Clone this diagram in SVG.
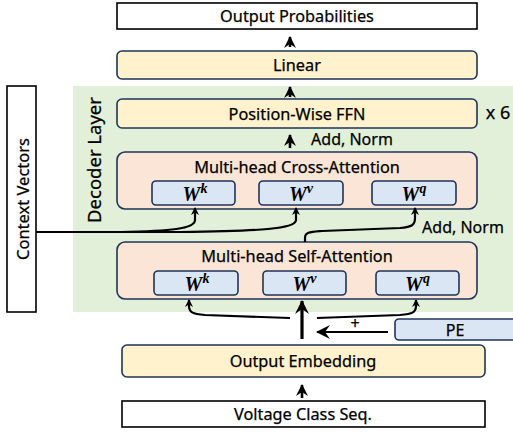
<svg xmlns="http://www.w3.org/2000/svg" width="513" height="432" viewBox="0 0 513 432">
<style>
.lbl{font-family:"Noto Sans","Open Sans",sans-serif;font-size:16px;fill:#000;stroke:#000;stroke-width:0.25;text-anchor:middle;dominant-baseline:central}
.ttl{font-family:"Noto Sans","Open Sans",sans-serif;font-size:16.3px;fill:#000;stroke:#000;stroke-width:0.25;text-anchor:middle;dominant-baseline:central}
.w{font-family:"Liberation Serif",serif;font-weight:bold;font-style:italic;font-size:20px;fill:#000;text-anchor:middle;dominant-baseline:central}
.sup{font-size:14px}
.plain{fill:#fff;stroke:#000;stroke-width:1.6}
.yel{fill:#FFF2CC;stroke:#1F3558;stroke-width:1.6}
.sal{fill:#FBE5D6;stroke:#1F3558;stroke-width:1.6}
.blu{fill:#DAE6F4;stroke:#1F3558;stroke-width:1.6}
.ln{fill:none;stroke:#000;stroke-width:2.2}
.la{fill:none;stroke:#000;stroke-width:2.6}
.lnb{fill:none;stroke:#000;stroke-width:3.2}
</style>
<defs>
<marker id="ah" viewBox="-13 -6.5 13 13" refX="-1" refY="0" markerWidth="13" markerHeight="13" markerUnits="userSpaceOnUse" orient="auto">
<path d="M0,0 L-12,-6 L-8,0 L-12,6 Z" fill="#000"/>
</marker>
<marker id="ahs" viewBox="-9 -4.5 9 9" refX="-1" refY="0" markerWidth="9" markerHeight="9" markerUnits="userSpaceOnUse" orient="auto">
<path d="M0,0 L-8,-4 L-5.5,0 L-8,4 Z" fill="#000"/>
</marker>
<marker id="ahL" viewBox="-15 -7.5 15 15" refX="-1" refY="0" markerWidth="15" markerHeight="15" markerUnits="userSpaceOnUse" orient="auto">
<path d="M0,0 L-14,-7 L-9,0 L-14,7 Z" fill="#000"/>
</marker>
</defs>
<rect id="decoder-bg" x="73" y="86" width="440" height="226" fill="#E2F0D9"/>
<g id="output-prob"><rect class="plain" x="117" y="3" width="360" height="26"/><text class="ttl" x="297" y="16">Output Probabilities</text></g>
<g id="linear"><rect class="yel" x="117" y="51" width="360" height="28" rx="5"/><text class="ttl" x="297" y="65">Linear</text></g>
<g id="ffn"><rect class="yel" x="117" y="99" width="360" height="29" rx="5"/><text class="ttl" x="297" y="114">Position-Wise FFN</text></g>
<g id="x6"><text class="lbl" x="498" y="112" style="font-size:18px">x 6</text></g>
<g id="decoder-label"><text class="ttl" transform="translate(93,160) rotate(-90)" style="font-size:18.5px">Decoder Layer</text></g>
<g id="context"><rect class="plain" x="7" y="86" width="29" height="226"/><text class="ttl" transform="translate(22,199) rotate(-90)" style="font-size:16.5px">Context Vectors</text></g>
<g id="cross-attn"><rect class="sal" x="117" y="152" width="360" height="57" rx="8"/><text class="ttl" x="297" y="167">Multi-head Cross-Attention</text>
<rect class="blu" x="152" y="181" width="83" height="24" rx="4"/><text class="w" x="195" y="194">W<tspan class="sup" dy="-6">k</tspan></text>
<rect class="blu" x="259" y="181" width="84" height="24" rx="4"/><text class="w" x="301" y="194">W<tspan class="sup" dy="-6">v</tspan></text>
<rect class="blu" x="372" y="181" width="84" height="24" rx="4"/><text class="w" x="414" y="194">W<tspan class="sup" dy="-6">q</tspan></text></g>
<g id="self-attn"><rect class="sal" x="117" y="242" width="360" height="57" rx="8"/><text class="ttl" x="297" y="256">Multi-head Self-Attention</text>
<rect class="blu" x="154" y="271" width="84" height="24" rx="4"/><text class="w" x="197" y="284">W<tspan class="sup" dy="-6">k</tspan></text>
<rect class="blu" x="263" y="271" width="83" height="24" rx="4"/><text class="w" x="304.5" y="284">W<tspan class="sup" dy="-6">v</tspan></text>
<rect class="blu" x="376" y="271" width="83" height="24" rx="4"/><text class="w" x="417.5" y="284">W<tspan class="sup" dy="-6">q</tspan></text></g>
<g id="pe"><rect class="blu" x="395" y="319" width="130" height="21" rx="4"/><text class="lbl" x="455" y="330">PE</text></g>
<g id="out-emb"><rect class="yel" x="122" y="345" width="363" height="32" rx="5"/><text class="ttl" x="303" y="361">Output Embedding</text></g>
<g id="voltage"><rect class="plain" x="122" y="401" width="363" height="26"/><text class="ttl" x="303" y="414">Voltage Class Seq.</text></g>
<g id="connectors">
<path class="la" d="M290,47 L290,37" marker-end="url(#ah)"/>
<path class="la" d="M290,97 L290,87" marker-end="url(#ah)"/>
<path class="la" d="M290,148 L290,135" marker-end="url(#ah)"/>
<text class="lbl" x="352" y="139">Add, Norm</text>
<path class="ln" d="M36,232 L120,232 C170,231 195,229 195,220 L195,208" marker-end="url(#ahs)"/>
<path class="ln" d="M36,232 L180,232 C260,231 296,229 296,220 L296,208" marker-end="url(#ahs)"/>
<path class="ln" d="M305,242 L305,238 C305,232 310,232 322,231 L400,228 C412,227 415,225 415,218 L415,208" marker-end="url(#ahs)"/>
<text class="lbl" x="463" y="227">Add, Norm</text>
<path class="lnb" d="M302,339 L302,301" marker-end="url(#ahL)"/>
<path class="ln" d="M290,318 L205,315 C192,314 189,312 189,306 L189,300" marker-end="url(#ahs)"/>
<path class="ln" d="M317,318 L400,315 C413,314 416,312 416,306 L416,300" marker-end="url(#ahs)"/>
<path class="ln" d="M388,332 L317,332" marker-end="url(#ahL)"/>
<text class="lbl" x="355" y="323">+</text>
<path class="la" d="M302,398 L302,385" marker-end="url(#ah)"/>
</g>
</svg>
